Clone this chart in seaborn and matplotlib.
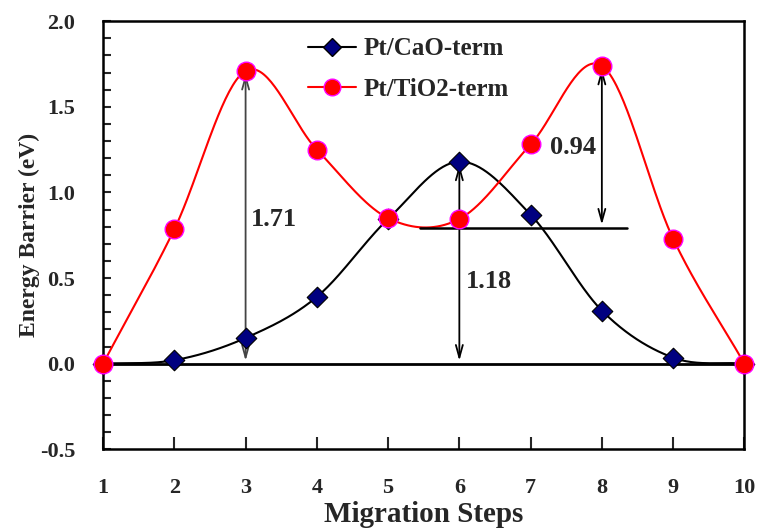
import numpy as np
import pandas as pd
import seaborn as sns
import matplotlib.pyplot as plt
from matplotlib.lines import Line2D
from matplotlib.ticker import MultipleLocator, FormatStrFormatter

steps = [1, 2, 3, 4, 5, 6, 7, 8, 9, 10]
cao = [0.0, 0.02, 0.15, 0.39, 0.845, 1.18, 0.87, 0.31, 0.035, 0.0]
tio2 = [0.0, 0.785, 1.71, 1.25, 0.85, 0.845, 1.28, 1.74, 0.73, 0.0]


def smooth(x, y, n=40):
    # Catmull-Rom curve through the points (like Excel's smoothed line)
    x = np.asarray(x, float)
    y = np.asarray(y, float)
    px = np.concatenate([[2 * x[0] - x[1]], x, [2 * x[-1] - x[-2]]])
    py = np.concatenate([[2 * y[0] - y[1]], y, [2 * y[-1] - y[-2]]])
    xs, ys = [], []
    t = np.linspace(0, 1, n)
    for i in range(1, len(px) - 2):
        for p, out in ((px, xs), (py, ys)):
            p0, p1, p2, p3 = p[i - 1], p[i], p[i + 1], p[i + 2]
            out.extend(0.5 * (2 * p1 + (-p0 + p2) * t
                              + (2 * p0 - 5 * p1 + 4 * p2 - p3) * t ** 2
                              + (-p0 + 3 * p1 - 3 * p2 + p3) * t ** 3))
    return np.array(xs), np.array(ys)


sns.set_style("white")
plt.rcParams['font.family'] = ['Liberation Serif', 'DejaVu Serif']
plt.rcParams['font.weight'] = 'bold'

fig = plt.figure(figsize=(7.58, 5.31), dpi=100)
ax = fig.add_axes([0.136, 0.154, 0.846, 0.806])

sx, sy = smooth(steps, cao)
sns.lineplot(x=sx, y=sy, color='black', lw=1.5, ax=ax, sort=False)
sx, sy = smooth(steps, tio2)
sns.lineplot(x=sx, y=sy, color='red', lw=1.5, ax=ax, sort=False)

ax.axhline(0, color='black', lw=2, zorder=2)
ax.plot([5.45, 8.35], [0.795, 0.795], color='black', lw=1.8)

arrow = dict(arrowstyle='<->,head_length=0.9,head_width=0.25', lw=1.3)
ax.annotate('', xy=(3, 1.71), xytext=(3, 0.0),
            arrowprops=dict(arrow, color='#444444'))
ax.annotate('', xy=(6, 1.18), xytext=(6, 0.0),
            arrowprops=dict(arrow, color='black'))
ax.annotate('', xy=(8, 1.74), xytext=(8, 0.795),
            arrowprops=dict(arrow, color='black'))

ax.text(3.07, 0.84, '1.71', fontsize=19, fontweight='bold', va='center')
ax.text(6.09, 0.48, '1.18', fontsize=19, fontweight='bold', va='center')
ax.text(7.92, 1.26, '0.94', fontsize=19, fontweight='bold', va='center', ha='right')

df = pd.DataFrame({'step': steps, 'cao': cao, 'tio2': tio2})
sns.scatterplot(data=df, x='step', y='cao', marker='D', s=110, color='#000080',
                edgecolor='black', linewidth=0.8, ax=ax, zorder=4, clip_on=False)
sns.scatterplot(data=df, x='step', y='tio2', marker='o', s=180, color='red',
                edgecolor='#ff00ff', linewidth=1.0, ax=ax, zorder=5, clip_on=False)

ax.set_xlim(1, 10)
ax.set_ylim(-0.5, 2.0)
ax.set_xticks(steps)
ax.yaxis.set_major_locator(MultipleLocator(0.5))
ax.yaxis.set_minor_locator(MultipleLocator(0.1))
ax.yaxis.set_major_formatter(FormatStrFormatter('%.1f'))
ax.tick_params(axis='y', which='both', direction='in', length=6, width=1.5,
               left=True, labelsize=16, pad=20)
ax.tick_params(axis='x', direction='in', length=9, width=1.5, bottom=True,
               labelsize=16, pad=21)
for lbl in ax.get_xticklabels() + ax.get_yticklabels():
    lbl.set_fontweight('bold')
for s in ax.spines.values():
    s.set_linewidth(1.8)
    s.set_color('black')

ax.set_xlabel('Migration Steps', fontsize=21, fontweight='bold', labelpad=2)
ax.set_ylabel('Energy Barrier (eV)', fontsize=17, fontweight='bold', labelpad=0)

handles = [
    Line2D([], [], color='black', lw=1.5, marker='D', markersize=9,
           markerfacecolor='#000080', markeredgecolor='black'),
    Line2D([], [], color='red', lw=1.5, marker='o', markersize=12,
           markerfacecolor='red', markeredgecolor='#ff00ff'),
]
ax.legend(handles, ['Pt/CaO-term', 'Pt/TiO2-term'], loc='upper left',
          bbox_to_anchor=(0.285, 1.015), frameon=False, prop={'size': 18, 'weight': 'bold'},
          handlelength=1.9, handletextpad=0.3, labelspacing=0.7)

fig.savefig('out.png', dpi=100)
